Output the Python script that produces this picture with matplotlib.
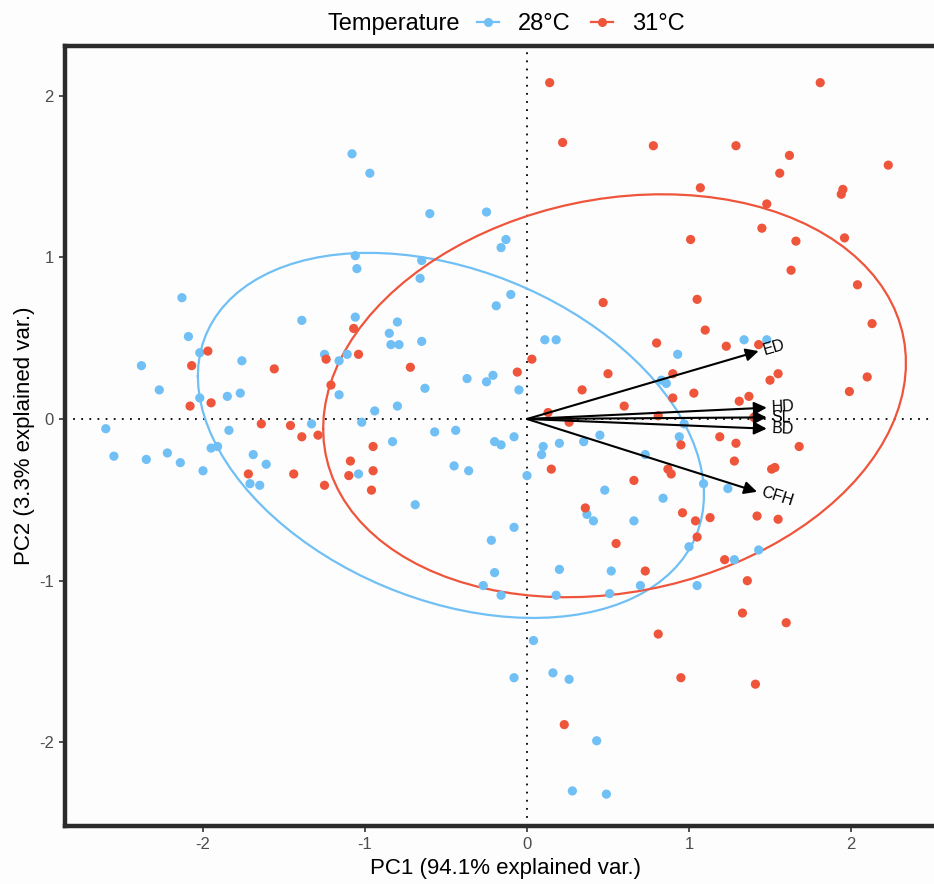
import numpy as np
import matplotlib
matplotlib.use("Agg")
import matplotlib.pyplot as plt
from matplotlib.lines import Line2D

plt.rcParams['font.family'] = ['Liberation Sans', 'DejaVu Sans']
plt.rcParams['axes.unicode_minus'] = False

# PCA scores, 28°C group
pc1_28 = [-1.08, -1.06, -1.05, -2.13, -1.39, -1.06, -2.09, -2.02, -2.38, -1.76,
          -1.25, -1.16, -1.11, -2.27, -2.02, -1.85, -1.77, -1.16, -2.60, -1.84,
          -1.33, -1.02, -0.97, -0.60, -0.25, -0.13, -0.16, -0.65, -0.66, -0.10,
          -0.19, -0.80, -0.85, -0.84, -0.79, -0.65, 0.11, 0.18, -0.37, -0.25,
          -0.21, -0.05, -0.63, -0.94, -0.80, -0.57, -0.44, -0.08, 0.45, 0.83,
          0.86, 1.34, 1.48, 0.93, 0.97, 0.94, -2.55, -2.35, -2.22, -2.14,
          -2.00, -1.95, -1.91, -1.69, -1.61, -1.71, -1.65, -1.04, -0.83, -0.20,
          -0.16, 0.10, 0.09, 0.20, 0.35, 0.73, -0.45, -0.36, 0.00, -0.69,
          0.48, 0.37, 0.41, 0.66, -0.08, -0.22, 0.20, 0.52, -0.20, -0.27,
          -0.16, 0.18, 0.51, 0.70, 0.04, -0.08, 0.16, 0.26, 0.43, 0.28,
          0.49, 1.09, 1.24, 0.84, 1.00, 1.28, 1.43, 1.05]
pc2_28 = [1.64, 1.01, 0.93, 0.75, 0.61, 0.63, 0.51, 0.41, 0.33, 0.36,
          0.40, 0.36, 0.40, 0.18, 0.13, 0.14, 0.16, 0.15, -0.06, -0.07,
          -0.03, -0.02, 1.52, 1.27, 1.28, 1.11, 1.06, 0.98, 0.87, 0.77,
          0.70, 0.60, 0.53, 0.46, 0.46, 0.48, 0.49, 0.49, 0.25, 0.23,
          0.27, 0.18, 0.19, 0.05, 0.08, -0.08, -0.07, -0.11, -0.10, 0.24,
          0.22, 0.49, 0.49, 0.40, -0.03, -0.11, -0.23, -0.25, -0.21, -0.27,
          -0.32, -0.18, -0.17, -0.22, -0.28, -0.40, -0.41, -0.34, -0.14, -0.14,
          -0.16, -0.17, -0.22, -0.15, -0.14, -0.22, -0.29, -0.32, -0.35, -0.53,
          -0.44, -0.59, -0.63, -0.63, -0.67, -0.75, -0.93, -0.94, -0.95, -1.03,
          -1.09, -1.09, -1.08, -1.03, -1.37, -1.60, -1.57, -1.61, -1.99, -2.30,
          -2.32, -0.40, -0.43, -0.49, -0.79, -0.87, -0.81, -1.03]

# PCA scores, 31°C group
pc1_31 = [-1.97, -2.07, -1.56, -1.07, -1.24, -1.04, -1.21, -2.08, -1.95, -1.64,
          -1.46, -1.39, -1.29, 0.14, 0.22, 0.78, 0.47, 0.03, -0.06, 0.50,
          0.34, 0.60, 0.13, 0.26, -0.72, 0.80, 1.81, 1.29, 1.62, 1.56,
          2.23, 1.07, 1.95, 1.94, 1.48, 1.45, 1.01, 1.66, 1.96, 1.63,
          2.04, 1.05, 2.13, 1.10, 1.23, 1.43, 0.90, 1.55, 1.50, 2.10,
          1.99, 1.03, 1.37, 1.31, 0.90, 0.81, 1.40, 1.19, 1.29, 1.68,
          0.95, 1.28, 1.51, 1.53, 0.87, 0.89, 0.96, 1.04, 1.13, 1.42,
          1.55, 1.05, 1.22, 0.73, 1.36, 1.33, 1.60, 0.81, 0.95, 1.41,
          -0.95, -1.09, -0.95, -1.10, -0.96, -1.72, -1.44, -1.25, 0.15, 0.66,
          0.36, 0.55, 0.23]
pc2_31 = [0.42, 0.33, 0.31, 0.56, 0.37, 0.40, 0.21, 0.08, 0.10, -0.03,
          -0.04, -0.11, -0.10, 2.08, 1.71, 1.69, 0.72, 0.37, 0.29, 0.28,
          0.18, 0.08, 0.04, -0.02, 0.32, 0.47, 2.08, 1.69, 1.63, 1.52,
          1.57, 1.43, 1.42, 1.39, 1.33, 1.18, 1.11, 1.10, 1.12, 0.92,
          0.83, 0.74, 0.59, 0.55, 0.45, 0.46, 0.28, 0.28, 0.24, 0.26,
          0.17, 0.16, 0.14, 0.11, 0.13, 0.02, 0.01, -0.11, -0.15, -0.17,
          -0.16, -0.26, -0.31, -0.30, -0.31, -0.34, -0.58, -0.63, -0.61, -0.60,
          -0.62, -0.73, -0.87, -0.94, -1.00, -1.20, -1.26, -1.33, -1.60, -1.64,
          -0.17, -0.26, -0.32, -0.35, -0.44, -0.34, -0.34, -0.41, -0.31, -0.38,
          -0.55, -0.77, -1.89]

# variable loadings (arrows)
var_names = ['ED', 'HD', 'SL', 'BD', 'CFH']
load_pc1 = [1.43, 1.48, 1.48, 1.48, 1.42]
load_pc2 = [0.42, 0.07, 0.01, -0.06, -0.45]

groups = ['28°C', '31°C']
colors = ['#70BFF5', '#EE553B']
scores = [(pc1_28, pc2_28), (pc1_31, pc2_31)]

fig = plt.figure(figsize=(9.34, 8.84), dpi=100, facecolor='#FDFDFD')
ax = fig.add_axes([65 / 934, 1 - 826 / 884, (945 - 65) / 934, (826 - 46) / 884])
ax.set_facecolor('#FDFDFD')

# reference lines through the origin
ax.axhline(0, color='black', lw=1.3, ls=(0, (1, 3.5)), zorder=1)
ax.axvline(0, color='black', lw=1.3, ls=(0, (1, 3.5)), zorder=1)

# normal-probability ellipses (68%), as ggbiplot draws them
theta = np.linspace(-np.pi, np.pi, 100)
circle = np.column_stack([np.cos(theta), np.sin(theta)])
ed = np.sqrt(-2 * np.log(1 - 0.68))
for (x, y), col in zip(scores, colors):
    x = np.array(x)
    y = np.array(y)
    sigma = np.cov(np.vstack([x, y]))
    chol_up = np.linalg.cholesky(sigma).T
    ell = circle @ chol_up * ed + np.array([x.mean(), y.mean()])
    ax.plot(ell[:, 0], ell[:, 1], color=col, lw=1.6, zorder=2)

for (x, y), col in zip(scores, colors):
    ax.scatter(x, y, s=44, color=col, edgecolors='none', zorder=3)

# loading arrows and labels
for name, lx, ly in zip(var_names, load_pc1, load_pc2):
    ax.annotate('', xy=(lx, ly), xytext=(0, 0),
                arrowprops=dict(arrowstyle='-|>', color='black', lw=1.5,
                                mutation_scale=19, shrinkA=0, shrinkB=0),
                zorder=4)
    ang = np.degrees(np.arctan(ly / lx))
    ax.text(lx + 0.03, ly, name, rotation=ang, rotation_mode='anchor',
            ha='left', va='center', fontsize=11.5, color='black', zorder=5)

ax.set_xlim((65 - 527) / 162, (945 - 527) / 162)
ax.set_ylim((419 - 826) / 161.7, (419 - 46) / 161.7)
ax.set_xticks([-2, -1, 0, 1, 2])
ax.set_yticks([-2, -1, 0, 1, 2])
ax.tick_params(length=4, width=1.2, color='#333333', labelcolor='#4D4D4D',
               labelsize=12, pad=4)
for sp in ax.spines.values():
    sp.set_linewidth(3.2)
    sp.set_color('#2B2B2B')

ax.set_xlabel('PC1 (94.1% explained var.)', fontsize=16, labelpad=4)
ax.set_ylabel('PC2 (3.3% explained var.)', fontsize=16, labelpad=3)

# legend across the top
handles = [Line2D([0], [0], color=c, lw=1.6, marker='o', markersize=6.5,
                  markeredgecolor='none') for c in colors]
fig.text(460 / 934, 1 - 24 / 884, 'Temperature', fontsize=17, ha='right', va='center')
fig.legend(handles, groups, ncol=2, loc='center left',
           bbox_to_anchor=(477 / 934, 1 - 24 / 884), frameon=False, fontsize=17,
           handlelength=0.95, handletextpad=0.8, columnspacing=0.85,
           borderaxespad=0, borderpad=0)

fig.savefig('out.png', dpi=100, facecolor=fig.get_facecolor())
